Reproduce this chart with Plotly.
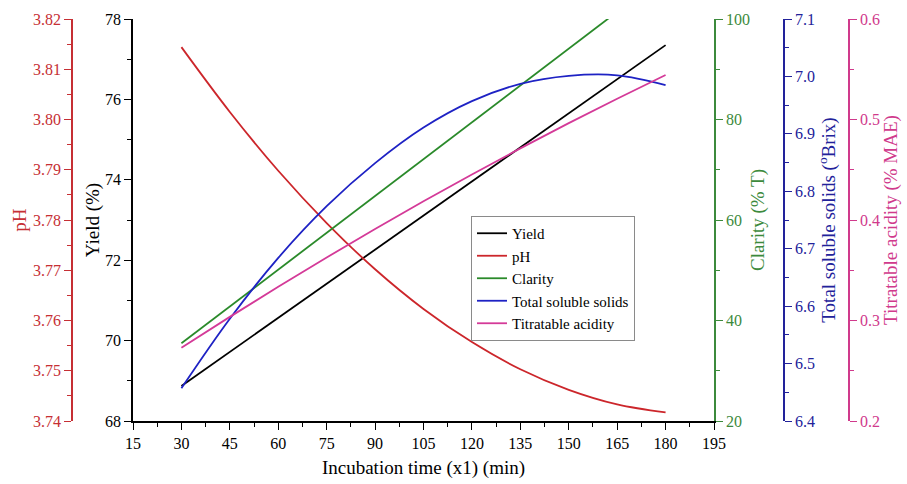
import plotly.graph_objects as go

# Incubation time (min)
time_min = [30, 45, 60, 75, 90, 105, 120, 135, 150, 165, 180]

# Responses at each incubation time
yield_pct = [68.87, 69.72, 70.57, 71.42, 72.26, 73.11, 73.96, 74.81, 75.66, 76.50, 77.35]
ph_vals = [3.8144, 3.8015, 3.7898, 3.7794, 3.7702, 3.7623, 3.7557, 3.7503, 3.7462, 3.7433, 3.7417]
clarity_pct = [35.46, 42.79, 50.12, 57.45, 64.78, 72.11, 79.44, 86.77, 94.10, 101.43, 108.76]
tss_brix = [6.457, 6.578, 6.684, 6.774, 6.849, 6.911, 6.957, 6.987, 7.001, 7.002, 6.985]
ta_mae = [0.2729, 0.3036, 0.3336, 0.3627, 0.3911, 0.4186, 0.4453, 0.4713, 0.4964, 0.5207, 0.5443]

x_ticks = list(range(15, 196, 15))

FONT = "Liberation Serif, Times New Roman, serif"
RED_AX, RED_LN = "#c62f34", "#cc262b"
GREEN_AX, GREEN_LN = "#3c8a3c", "#2a8a2a"
BLUE_AX, BLUE_LN = "#22229a", "#1e22c4"
MAG_AX, MAG_LN = "#d03a8c", "#d43a98"

fig = go.Figure()
fig.add_trace(go.Scatter(x=time_min, y=yield_pct, name="Yield", mode="lines",
                         line=dict(color="black", width=1.8), yaxis="y"))
fig.add_trace(go.Scatter(x=time_min, y=ph_vals, name="pH", mode="lines",
                         line=dict(color=RED_LN, width=1.8, shape="spline"), yaxis="y2"))
fig.add_trace(go.Scatter(x=time_min, y=clarity_pct, name="Clarity", mode="lines",
                         line=dict(color=GREEN_LN, width=1.8), yaxis="y3"))
fig.add_trace(go.Scatter(x=time_min, y=tss_brix, name="Total soluble solids", mode="lines",
                         line=dict(color=BLUE_LN, width=1.8, shape="spline"), yaxis="y4"))
fig.add_trace(go.Scatter(x=time_min, y=ta_mae, name="Titratable acidity", mode="lines",
                         line=dict(color=MAG_LN, width=1.8, shape="spline"), yaxis="y5"))

W, H = 907, 484
ML, MR, MT, MB = 10, 10, 19, 63
pw = W - ML - MR
x0 = (133 - ML) / pw
x1 = (714 - ML) / pw


def paper_x(px):
    return (px - ML) / pw


def yax(color, rng, dtick, minor_dtick, title, fmt=None, standoff=2, **kw):
    d = dict(
        range=rng, dtick=dtick, tick0=rng[0], showline=True, linecolor=color, linewidth=1.6,
        ticks="outside", ticklen=7, tickwidth=1.4, tickcolor=color,
        tickfont=dict(family=FONT, size=16, color=color),
        minor=dict(ticks="outside", ticklen=4, tickwidth=1.2, tickcolor=color, dtick=minor_dtick),
        showgrid=False, zeroline=False, automargin=False,
        title=dict(text=title, font=dict(family=FONT, size=19, color=color), standoff=standoff),
    )
    if fmt:
        d["tickformat"] = fmt
    d.update(kw)
    return d


fig.update_layout(
    width=W, height=H,
    margin=dict(l=ML, r=MR, t=MT, b=MB, autoexpand=False),
    paper_bgcolor="white", plot_bgcolor="white",
    font=dict(family=FONT, color="black"),
    xaxis=dict(
        domain=[x0, x1], range=[15, 195], tickvals=x_ticks,
        showline=True, linecolor="black", linewidth=1.6,
        ticks="outside", ticklen=7, tickwidth=1.4, tickcolor="black",
        minor=dict(ticks="outside", ticklen=4, tickwidth=1.2, tickcolor="black", dtick=7.5, tick0=15),
        tickfont=dict(family=FONT, size=16, color="black"),
        showgrid=False, zeroline=False, automargin=False,
        title=dict(text="Incubation time (x1) (min)", font=dict(family=FONT, size=19), standoff=10),
    ),
    xaxis2=dict(
        overlaying="x", side="top", anchor="y", range=[15, 195], tickvals=x_ticks,
        showline=True, linecolor="black", linewidth=1.6,
        ticks="inside", ticklen=7, tickwidth=1.4, tickcolor="black",
        minor=dict(ticks="inside", ticklen=4, tickwidth=1.2, tickcolor="black", dtick=7.5, tick0=15),
        showticklabels=False, showgrid=False, zeroline=False, automargin=False,
    ),
    yaxis=yax("black", [68, 78], 2, 1, "Yield (%)", standoff=0, anchor="x", side="left"),
    yaxis2=yax(RED_AX, [3.74, 3.82], 0.01, 0.005, "pH", ".2f", standoff=0,
               overlaying="y", side="left", anchor="free", position=paper_x(72)),
    yaxis3=yax(GREEN_AX, [20, 100], 20, 10, "Clarity (% T)",
               overlaying="y", side="right", anchor="x"),
    yaxis4=yax(BLUE_AX, [6.4, 7.1], 0.1, 0.05, "Total soluble solids (<sup>o</sup>Brix)", ".1f",
               overlaying="y", side="right", anchor="free", position=paper_x(784)),
    yaxis5=yax(MAG_AX, [0.2, 0.6], 0.1, 0.05, "Titratable acidity (% MAE)", ".1f",
               overlaying="y", side="right", anchor="free", position=paper_x(849)),
    legend=dict(
        x=paper_x(471), y=(421 - 216) / (H - MT - MB), xanchor="left", yanchor="top",
        bgcolor="white", bordercolor="#8a8a8a", borderwidth=1,
        font=dict(family=FONT, size=15, color="black"),
        tracegroupgap=0, itemwidth=30,
    ),
    showlegend=True,
)

fig.write_html("out.html")
